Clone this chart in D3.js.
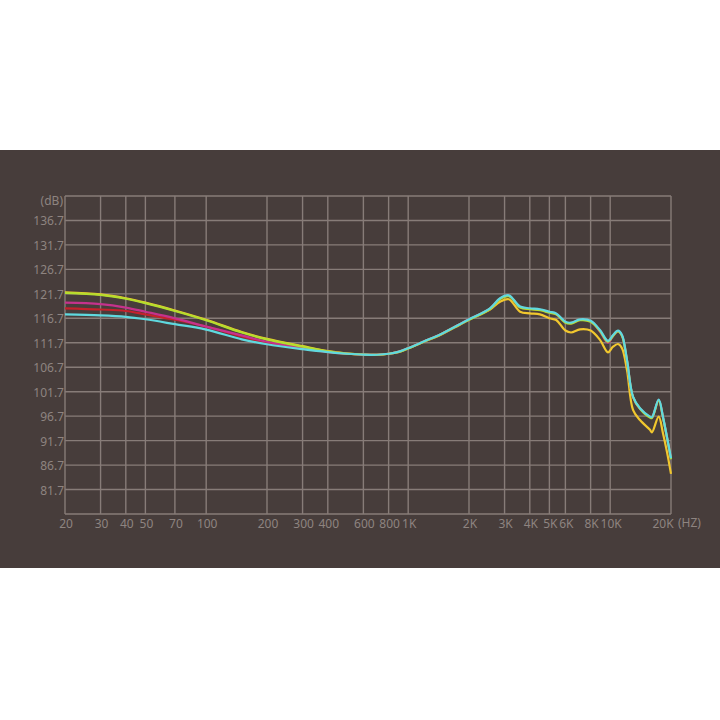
<!DOCTYPE html>
<html lang='en'>
	<head>
		<title>Frequency response</title>
		<meta charset=utf-8>
		<script src="https://cdn.jsdelivr.net/npm/d3@7"></script>
		<style>
			body {
				margin: 0;
				background-color: white;
			}
			#chart text {
				font-family: "Noto Sans", sans-serif;
				font-size: 12px;
				fill: #8e8480;
			}
		</style>
	</head>
	<body>
		<svg id='chart' width="720" height="720"></svg>

	<script>
		// data
		var freqs = [20, 30, 40, 50, 70, 100, 150, 200, 300, 400, 500, 600, 700, 800, 900, 1000, 1200, 1440, 1800, 2000,
			2540, 2850, 3150, 3580, 4000, 4490, 5000, 5400, 6000, 6400, 7090, 8000, 8900, 9750, 10330, 10930, 11440,
			12110, 12970, 14050, 15740, 16100, 17380, 18250, 19100, 20000];

		var cyanDb = [117.5, 117.3, 117.0, 116.5, 115.5, 114.4, 112.4, 111.4, 110.4, 109.8, 109.45, 109.26, 109.25, 109.45, 109.9, 110.6, 112.0, 113.4, 115.5, 116.5,
			118.75, 120.8, 121.4, 119.1, 118.75, 118.55, 118.05, 117.7, 116.0, 115.8, 116.5, 116.2, 114.3, 112.1, 113.3, 114.2, 113.3,
			108.2, 100.7, 98.3, 96.6, 96.5, 100.1, 96.6, 92.5, 88.1];

		var limeDb = [121.9, 121.5, 120.7, 119.8, 118.2, 116.3, 113.8, 112.4, 110.9, 109.95, 109.5, 109.3, 109.25, 109.45, 109.85, 110.55, 111.95, 113.35, 115.45, 116.4,
			118.6, 120.6, 121.2, 118.9, 118.55, 118.35, 117.85, 117.5, 115.8, 115.6, 116.3, 116.0, 114.1, 111.9, 113.1, 114.0, 113.1,
			108.0, 100.6, 98.2, 96.4, 96.3, 99.9, 96.4, 92.3, 87.9];

		var magentaDb = [119.9, 119.6, 118.9, 118.05, 116.7, 115.0, 113.2, 111.9, 110.6, 109.85, 109.45, 109.26, 109.25, 109.45, 109.9, 110.6, 112.0, 113.4, 115.5, 116.5,
			118.7, 120.7, 121.3, 119.0, 118.65, 118.45, 117.95, 117.6, 115.9, 115.7, 116.4, 116.1, 114.0, 111.7, 113.1, 114.1, 113.2,
			108.1, 100.6, 98.2, 96.5, 96.4, 100.0, 96.5, 92.4, 88.0];

		var redDb = [118.75, 118.5, 118.2, 117.5, 116.4, 115.0, 113.0, 111.7, 110.5, 109.8, 109.45, 109.26, 109.25, 109.45, 109.9, 110.6, 112.0, 113.4, 115.5, 116.5,
			118.7, 120.7, 121.3, 119.0, 118.65, 118.45, 117.95, 117.6, 115.9, 115.7, 116.4, 116.1, 114.2, 112.0, 113.2, 114.1, 113.2,
			108.1, 100.6, 98.2, 96.5, 96.4, 100.0, 96.5, 92.4, 88.0];

		var yellowDb = [122.0, 121.6, 120.8, 119.9, 118.3, 116.4, 113.9, 112.5, 111.0, 110.0, 109.5, 109.3, 109.25, 109.45, 109.85, 110.55, 111.95, 113.3, 115.4, 116.4,
			118.5, 120.1, 120.6, 118.05, 117.7, 117.5, 116.7, 116.35, 114.2, 113.8, 114.45, 114.2, 112.3, 109.75, 110.9, 111.45, 110.6,
			106.1, 98.0, 95.9, 93.9, 93.4, 96.6, 93.2, 89.4, 84.9];

		var xTicks = [20, 30, 40, 50, 70, 100, 200, 300, 400, 600, 800, 1000, 2000, 3000, 4000, 5000, 6000, 8000, 10000, 20000];
		var xLabels = ['20', '30', '40', '50', '70', '100', '200', '300', '400', '600', '800', '1K', '2K', '3K', '4K', '5K', '6K', '8K', '10K', '20K'];
		var yTicks = [81.7, 86.7, 91.7, 96.7, 101.7, 106.7, 111.7, 116.7, 121.7, 126.7, 131.7, 136.7];

		// draw order: bottom first
		var series = [
			{name: 'yellow', color: '#f1c72e', values: yellowDb},
			{name: 'red', color: '#c4212c', values: redDb},
			{name: 'magenta', color: '#c5328c', values: magentaDb},
			{name: 'lime', color: '#b4dd2e', values: limeDb},
			{name: 'cyan', color: '#5fd9df', values: cyanDb}
		];

		var svg = d3.select('#chart');

		// dark panel
		svg.append('rect').attr('x', 0).attr('y', 150).attr('width', 720).attr('height', 418).attr('fill', '#473d3b');

		var padL = 65, padR = 671, padT = 196, padB = 514;

		var x = d3.scaleLog().domain([20, 20000]).range([padL, padR]);
		var y = d3.scaleLinear().domain([76.7, 141.7]).range([padB, padT]);

		var gridColor = '#877c78';

		// horizontal grid lines + labels
		svg.selectAll('.hgrid').data(yTicks.concat([141.7, 76.7])).enter().append('line')
			.attr('x1', padL).attr('x2', padR)
			.attr('y1', function(d) { return y(d); }).attr('y2', function(d) { return y(d); })
			.attr('stroke', gridColor).attr('stroke-width', 1.4);

		svg.selectAll('.ylab').data(yTicks).enter().append('text')
			.attr('x', padL - 1).attr('y', function(d) { return y(d) + 5; })
			.attr('text-anchor', 'end')
			.text(function(d) { return d.toFixed(1); });

		svg.append('text').attr('x', padL - 2).attr('y', y(141.7) + 9).attr('text-anchor', 'end').text('(dB)');

		// vertical grid lines + labels
		svg.selectAll('.vgrid').data(xTicks).enter().append('line')
			.attr('x1', function(d) { return x(d); }).attr('x2', function(d) { return x(d); })
			.attr('y1', padT).attr('y2', padB)
			.attr('stroke', gridColor).attr('stroke-width', 1.4);

		svg.selectAll('.xlab').data(xTicks).enter().append('text')
			.attr('x', function(d, i) { return x(d) + (d === 20000 ? -8 : 1); })
			.attr('y', 528)
			.attr('text-anchor', 'middle')
			.text(function(d, i) { return xLabels[i]; });

		svg.append('text').attr('x', 678).attr('y', 527).text('(HZ)');

		// response curves
		var line = d3.line()
			.x(function(d, i) { return x(freqs[i]); })
			.y(function(d) { return y(d); })
			.curve(d3.curveCatmullRom.alpha(0.5));

		svg.selectAll('.curve').data(series).enter().append('path')
			.attr('d', function(s) { return line(s.values); })
			.attr('fill', 'none')
			.attr('stroke', function(s) { return s.color; })
			.attr('stroke-width', 2.2)
			.attr('stroke-linejoin', 'round');
	</script>
	</body>
</html>
